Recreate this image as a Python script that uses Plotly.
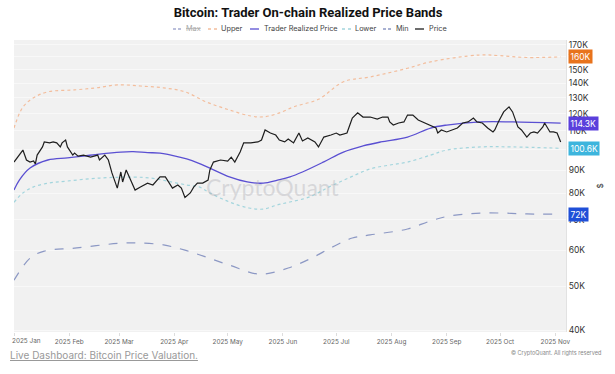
import math
import plotly.graph_objects as go

# ---------------- data (values in USD) ----------------
price_dates = [
    "2025-01-01", "2025-01-03", "2025-01-05", "2025-01-06", "2025-01-08", "2025-01-10", "2025-01-12",
    "2025-01-13", "2025-01-14", "2025-01-17", "2025-01-18", "2025-01-21", "2025-01-23", "2025-01-25",
    "2025-01-27", "2025-01-28", "2025-01-30", "2025-01-31", "2025-02-03", "2025-02-04", "2025-02-06",
    "2025-02-09", "2025-02-13", "2025-02-17", "2025-02-18", "2025-02-21", "2025-02-23", "2025-02-25",
    "2025-02-28", "2025-03-02", "2025-03-03", "2025-03-05", "2025-03-07", "2025-03-10", "2025-03-13",
    "2025-03-17", "2025-03-20", "2025-03-24", "2025-03-27", "2025-03-29", "2025-03-31", "2025-04-03",
    "2025-04-05", "2025-04-07", "2025-04-10", "2025-04-12", "2025-04-14", "2025-04-17", "2025-04-20",
    "2025-04-21", "2025-04-23", "2025-04-27", "2025-05-01", "2025-05-03", "2025-05-05", "2025-05-08",
    "2025-05-10", "2025-05-14", "2025-05-18", "2025-05-20", "2025-05-22", "2025-05-25", "2025-05-28",
    "2025-05-30", "2025-06-02", "2025-06-04", "2025-06-07", "2025-06-10", "2025-06-12", "2025-06-15",
    "2025-06-19", "2025-06-21", "2025-06-24", "2025-06-28", "2025-07-01", "2025-07-03", "2025-07-07",
    "2025-07-09", "2025-07-10", "2025-07-13", "2025-07-16", "2025-07-20", "2025-07-24", "2025-07-27",
    "2025-07-30", "2025-07-31", "2025-08-02", "2025-08-05", "2025-08-08", "2025-08-10", "2025-08-13",
    "2025-08-16", "2025-08-20", "2025-08-23", "2025-08-26", "2025-08-27", "2025-08-29", "2025-09-01",
    "2025-09-04", "2025-09-07", "2025-09-10", "2025-09-13", "2025-09-16", "2025-09-18", "2025-09-21",
    "2025-09-24", "2025-09-27", "2025-09-28", "2025-09-30", "2025-10-03", "2025-10-06", "2025-10-08",
    "2025-10-11", "2025-10-13", "2025-10-16", "2025-10-18", "2025-10-20", "2025-10-22", "2025-10-25",
    "2025-10-26", "2025-10-29", "2025-10-31", "2025-11-02", "2025-11-04",
]
price_values = [
    93800, 96200, 98700, 99700, 94800, 93800, 94300,
    92900, 97200, 101300, 103900, 103400, 103900, 103400,
    101300, 103400, 104900, 101300, 97200, 98200, 96700,
    97200, 96200, 97200, 94800, 97200, 94800, 88800,
    82200, 89200, 84800, 90100, 86500, 81400, 82700,
    84300, 83500, 87000, 87000, 84300, 82200, 83500,
    82200, 78400, 80200, 82700, 84300, 84300, 85600,
    90100, 93800, 94800, 94300, 96200, 93800, 98700,
    103400, 103400, 103900, 104900, 110400, 108700, 107600,
    104900, 103900, 105500, 103400, 108700, 104400, 106000,
    103900, 101300, 106500, 107600, 108700, 107600, 108700,
    114400, 117300, 120400, 117900, 117900, 116700, 117900,
    117900, 115000, 113200, 114400, 115000, 119100, 119100,
    116100, 114400, 113200, 111500, 108700, 110400, 109300,
    110400, 111500, 114400, 115000, 117300, 115000, 114400,
    111500, 109300, 110400, 115000, 121000, 124100, 121000,
    112100, 110400, 106500, 108700, 109300, 108700, 112100,
    114400, 109300, 109300, 108700, 103900,
]

upper_dates = ["2025-01-01", "2025-01-06", "2025-01-12", "2025-01-20", "2025-02-04", "2025-02-16",
               "2025-02-28", "2025-03-13", "2025-03-26", "2025-04-07", "2025-04-19", "2025-05-02",
               "2025-05-14", "2025-05-21", "2025-05-29", "2025-06-08", "2025-06-21", "2025-07-05",
               "2025-07-20", "2025-08-10", "2025-08-23", "2025-09-19", "2025-10-01", "2025-10-16",
               "2025-11-04"]
upper_values = [111500, 124000, 130000, 134000, 135300, 136700,
                138800, 138000, 136700, 134000, 127300, 122200,
                118500, 118000, 120000, 124500, 129000, 141000,
                144500, 151000, 156000, 161500, 161000, 159500,
                160000]

trader_dates = ["2025-01-01", "2025-01-04", "2025-01-10", "2025-01-20", "2025-01-31", "2025-02-09",
                "2025-02-18", "2025-03-02", "2025-03-09", "2025-03-17", "2025-03-24", "2025-04-04",
                "2025-04-11", "2025-04-21", "2025-05-02", "2025-05-12", "2025-05-21", "2025-05-29",
                "2025-06-05", "2025-06-12", "2025-06-24", "2025-07-05", "2025-07-16", "2025-07-26",
                "2025-08-10", "2025-08-23", "2025-09-01", "2025-09-20", "2025-10-08", "2025-11-04"]
trader_values = [81400, 85600, 91000, 94800, 95800, 96700,
                 97700, 98700, 98900, 98400, 98200, 96200,
                 94500, 91000, 87000, 84800, 84300, 85600,
                 87000, 89200, 93900, 98700, 101800, 103900,
                 106500, 111500, 113200, 115000, 115000, 114300]

lower_dates = ["2025-01-01", "2025-01-06", "2025-01-12", "2025-01-21", "2025-01-31", "2025-02-18",
               "2025-03-09", "2025-03-19", "2025-03-28", "2025-04-08", "2025-04-15", "2025-04-21",
               "2025-05-02", "2025-05-13", "2025-05-21", "2025-05-29", "2025-06-05", "2025-06-16",
               "2025-06-27", "2025-07-09", "2025-07-20", "2025-07-31", "2025-08-10", "2025-08-23",
               "2025-09-01", "2025-09-20", "2025-10-08", "2025-11-04"]
lower_values = [76500, 80200, 82700, 84400, 85200, 86500,
                86900, 86500, 85200, 83500, 82700, 80200,
                76600, 74300, 73900, 75500, 76600, 78600,
                82700, 86900, 90600, 92400, 93800, 97200,
                99700, 101300, 101300, 100600]

min_dates = ["2025-01-01", "2025-01-10", "2025-01-18", "2025-02-04", "2025-03-03", "2025-03-13",
             "2025-03-26", "2025-04-07", "2025-04-19", "2025-05-02", "2025-05-19", "2025-06-04",
             "2025-06-17", "2025-06-29", "2025-07-10", "2025-07-20", "2025-08-10", "2025-08-23",
             "2025-09-02", "2025-09-20", "2025-10-03", "2025-10-16", "2025-11-04"]
min_values = [51500, 57600, 59700, 60600, 62200, 62200,
              61600, 60000, 57900, 55600, 53100, 54800,
              57600, 61000, 63800, 64800, 66800, 69600,
              71300, 72400, 72400, 72100, 72000]

# Max band is switched off in the reference legend (hidden); rough estimates only
max_dates = ["2025-01-01", "2025-02-15", "2025-04-01", "2025-05-20", "2025-07-15", "2025-09-15", "2025-11-04"]
max_values = [150000, 185000, 182000, 165000, 190000, 215000, 213000]

y_ticks = [40000, 50000, 60000, 70000, 80000, 90000, 100000, 110000, 120000,
           130000, 140000, 150000, 160000, 170000]
y_tick_labels = ["40K", "50K", "60K", "70K", "80K", "90K", "100K", "110K", "120K",
                 "130K", "140K", "150K", "160K", "170K"]

month_ticks = ["2025-01-01", "2025-02-01", "2025-03-01", "2025-04-01", "2025-05-01", "2025-06-01",
               "2025-07-01", "2025-08-01", "2025-09-01", "2025-10-01", "2025-11-01"]
month_labels = ["2025 Jan", "2025 Feb", "2025 Mar", "2025 Apr", "2025 May", "2025 Jun",
                "2025 Jul", "2025 Aug", "2025 Sep", "2025 Oct", "2025 Nov"]

series_names = ["Max", "Upper", "Trader Realized Price", "Lower", "Min", "Price"]

# ---------------- styles / layout ----------------
FONT = "Inter, Liberation Sans, sans-serif"
W, H = 615, 374
# plot area in page pixels
P_LEFT, P_RIGHT, P_TOP, P_BOTTOM = 14, 566, 40, 332
ML, MT, MR, MB = P_LEFT, P_TOP, W - P_RIGHT, H - P_BOTTOM
PW, PH = P_RIGHT - P_LEFT, P_BOTTOM - P_TOP

C_MAX = "#a4abd0"
C_UPPER = "#f3bd9c"
C_TRADER = "#5a4fd2"
C_LOWER = "#a3d5dd"
C_MIN = "#8c98c4"
C_PRICE = "#1e1e1e"

styles = {
    "Max": dict(color=C_MAX, width=1.2, dash="dash", shape="spline"),
    "Upper": dict(color=C_UPPER, width=1.2, dash="dot", shape="spline"),
    "Trader Realized Price": dict(color=C_TRADER, width=1.3, shape="spline"),
    "Lower": dict(color=C_LOWER, width=1.2, dash="dot", shape="spline"),
    "Min": dict(color=C_MIN, width=1.2, dash="dash", shape="spline"),
    "Price": dict(color=C_PRICE, width=1.2),
}
series = {
    "Max": (max_dates, max_values),
    "Upper": (upper_dates, upper_values),
    "Trader Realized Price": (trader_dates, trader_values),
    "Lower": (lower_dates, lower_values),
    "Min": (min_dates, min_values),
    "Price": (price_dates, price_values),
}

fig = go.Figure()
for name in series_names:
    xs, ys = series[name]
    fig.add_trace(go.Scatter(x=xs, y=ys, name=name, mode="lines", line=styles[name],
                             visible="legendonly" if name == "Max" else True,
                             showlegend=False))


def px_x(px):
    return (px - P_LEFT) / PW


def px_y(py):
    return (P_BOTTOM - py) / PH


def fmt_k(v):
    return f"{round(v / 1000, 1):g}K"


annotations = []
shapes = []

# right-edge value tags
for vals, col in [(upper_values, "#e8731c"), (trader_values, "#5a3fdc"),
                  (lower_values, "#3db5dd"), (min_values, "#1f4fd8")]:
    v = vals[-1]
    annotations.append(dict(
        x=1, xref="paper", xanchor="left", xshift=2,
        y=math.log10(v), yref="y", yanchor="middle",
        text=fmt_k(v), showarrow=False, bgcolor=col, borderpad=1.5,
        font=dict(family=FONT, size=8.5, color="white"),
    ))

# compact custom legend (symbol start px, text start px)
legend_pos = {"Max": (173, 184), "Upper": (208, 219), "Trader Realized Price": (250, 262),
              "Lower": (342, 353), "Min": (383, 394), "Price": (415, 427)}
LEG_Y = 29
for name in series_names:
    sx, tx = legend_pos[name]
    st = styles[name]
    dash = st.get("dash", "solid")
    if dash == "dash":
        dash = "3px,2px"
    shapes.append(dict(type="line", xref="paper", yref="paper",
                       x0=px_x(sx), x1=px_x(sx + 9), y0=px_y(LEG_Y), y1=px_y(LEG_Y),
                       line=dict(color=st["color"], width=1.3, dash=dash)))
    label = f"<s>{name}</s>" if name == "Max" else name
    annotations.append(dict(x=px_x(tx), y=px_y(LEG_Y), xref="paper", yref="paper",
                            xanchor="left", yanchor="middle", text=label, showarrow=False,
                            font=dict(family=FONT, size=7.3, color="#aaa" if name == "Max" else "#444")))

# first month label sits inside the plot edge (as in the reference)
annotations.append(dict(x=month_ticks[0], xref="x", y=px_y(341), yref="paper", xanchor="left",
                        yanchor="middle", xshift=-4, text=month_labels[0], showarrow=False,
                        font=dict(family=FONT, size=6.4, color="#666")))
tick_text = [""] + month_labels[1:]

# watermark
annotations.append(dict(x=px_x(272), y=px_y(187), xref="paper", yref="paper", text="CryptoQuant",
                        showarrow=False, xanchor="center", yanchor="middle",
                        font=dict(family="Lato, sans-serif", size=23, color="rgba(165,165,172,0.35)")))
# footer
annotations.append(dict(x=px_x(8), y=px_y(355), xref="paper", yref="paper", xanchor="left",
                        yanchor="middle", text="<u>Live Dashboard: Bitcoin Price Valuation.</u>",
                        showarrow=False, font=dict(family=FONT, size=10, color="#999")))
annotations.append(dict(x=px_x(603), y=px_y(353), xref="paper", yref="paper", xanchor="right",
                        yanchor="middle", text="© CryptoQuant. All rights reserved",
                        showarrow=False, font=dict(family=FONT, size=5.5, color="#888")))

fig.update_layout(
    width=W, height=H,
    margin=dict(l=ML, r=MR, t=MT, b=MB, autoexpand=False),
    paper_bgcolor="white", plot_bgcolor="#f1f1f1",
    title=dict(text="<b>Bitcoin: Trader On-chain Realized Price Bands</b>", x=px_x(308), xref="paper",
               xanchor="center", y=1 - 12 / H, yanchor="middle",
               font=dict(family="Roboto, sans-serif", size=13, color="#111")),
    showlegend=False,
    annotations=annotations,
    shapes=shapes,
    xaxis=dict(type="date", range=["2025-01-01", "2025-11-07"], tickvals=month_ticks, ticktext=tick_text,
               showgrid=False, zeroline=False, automargin=False,
               ticks="outside", ticklen=3, tickcolor="#dddddd",
               tickfont=dict(family=FONT, size=6.4, color="#666")),
    yaxis=dict(type="log", side="right", range=[math.log10(39600), math.log10(174300)],
               tickvals=y_ticks, ticktext=y_tick_labels, showgrid=True, gridcolor="#f8f8f8",
               gridwidth=1, zeroline=False, showline=True, linecolor="#e2e2e2", automargin=False,
               tickfont=dict(family=FONT, size=8.5, color="#333"),
               title=dict(text="$", font=dict(family=FONT, size=8, color="#333"), standoff=9)),
)

# remove the default page margin so the 615x374 figure fills the window exactly
fig.write_html("out.html", config={"displayModeBar": False},
               post_script="document.body.style.margin='0';")
